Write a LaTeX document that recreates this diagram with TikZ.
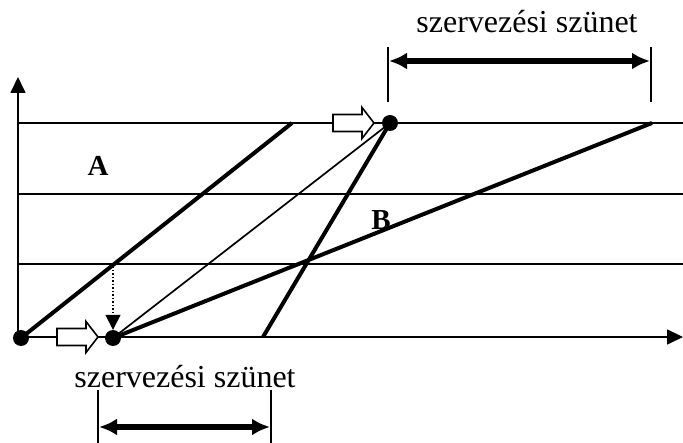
\documentclass[tikz,border=0pt]{standalone}
\usepackage{fontspec}
\setmainfont{Liberation Serif}
\usetikzlibrary{arrows.meta}
\begin{document}
\begin{tikzpicture}[x=1pt,y=-1pt,
  thinline/.style={line width=1.7pt},
  thickline/.style={line width=4pt},
  dot/.style={circle,fill=black,inner sep=0pt,minimum size=16pt},
  lbl/.style={font=\fontsize{32}{38}\selectfont, inner sep=0pt, anchor=base},
  boldlbl/.style={font=\fontsize{29}{34}\selectfont\bfseries, inner sep=0pt},
  dimline/.style={line width=5.5pt,{Latex[length=18pt,width=17pt]}-{Latex[length=18pt,width=17pt]}},
  tick/.style={line width=1.5pt},
  axis/.style={line width=1.7pt,-{Triangle[length=16pt,width=15pt]}},
  blockarr/.pic={\draw[line width=1.6pt,fill=white] (0,-8.5) -- (29,-8.5) -- (29,-15.5) -- (41,0) -- (29,15.5) -- (29,8.5) -- (0,8.5) -- cycle;}]
\useasboundingbox (0,0) rectangle (683,443);
% horizontal guide lines
\coordinate (o) at (18,337);
\coordinate (h1l) at (18,123); \coordinate (h1r) at (683,123);
\coordinate (h2l) at (18,194); \coordinate (h2r) at (683,194);
\coordinate (h3l) at (18,264); \coordinate (h3r) at (683,264);
\draw[thinline] (h1l) -- (h1r);
\draw[thinline] (h2l) -- (h2r);
\draw[thinline] (h3l) -- (h3r);
% axes
\coordinate (ytip) at (18,77);
\coordinate (xtip) at (683,337);
\draw[axis] (o) -- (ytip);
\draw[axis] (o) -- (xtip);
% points
\node[dot] (p0) at (21,338) {};
\node[dot] (p1) at (113,338) {};
\node[dot] (p2) at (390,123) {};
\coordinate (aTop) at (292,123);
\coordinate (bTop) at (652,123);
\coordinate (cBot) at (263,337);
% lines
\draw[thickline] (p0.center) -- (aTop);
\draw[thinline] (p1.center) -- (p2.center);
\draw[thickline] (p1.center) -- (bTop);
\draw[thickline] (p2.center) -- (cBot);
% dotted arrow
\coordinate (d0) at (113,263);
\draw[line width=1.5pt,dotted,-{Triangle[length=15pt,width=15pt]}] (d0) -- (p1.north);
% block arrows
\pic at (57,337) {blockarr};
\pic at (333,123) {blockarr};
% labels
\node[boldlbl] (A) at (98,166) {A};
\node[boldlbl] (B) at (381,220) {B};
% top dimension
\node[lbl] (t1) at (527,33) {szervezési szünet};
\coordinate (t1a) at (388,47); \coordinate (t1b) at (388,102);
\coordinate (t2a) at (651,47); \coordinate (t2b) at (651,102);
\draw[tick] (t1a) -- (t1b);
\draw[tick] (t2a) -- (t2b);
\coordinate (da1) at (389,61); \coordinate (da2) at (650,61);
\draw[dimline] (da1) -- (da2);
% bottom dimension
\node[lbl] (t2) at (185,388) {szervezési szünet};
\coordinate (u1a) at (98,390); \coordinate (u1b) at (98,443);
\coordinate (u2a) at (271,390); \coordinate (u2b) at (271,443);
\draw[tick] (u1a) -- (u1b);
\draw[tick] (u2a) -- (u2b);
\coordinate (db1) at (99,427); \coordinate (db2) at (270,427);
\draw[dimline] (db1) -- (db2);
\end{tikzpicture}
\end{document}
